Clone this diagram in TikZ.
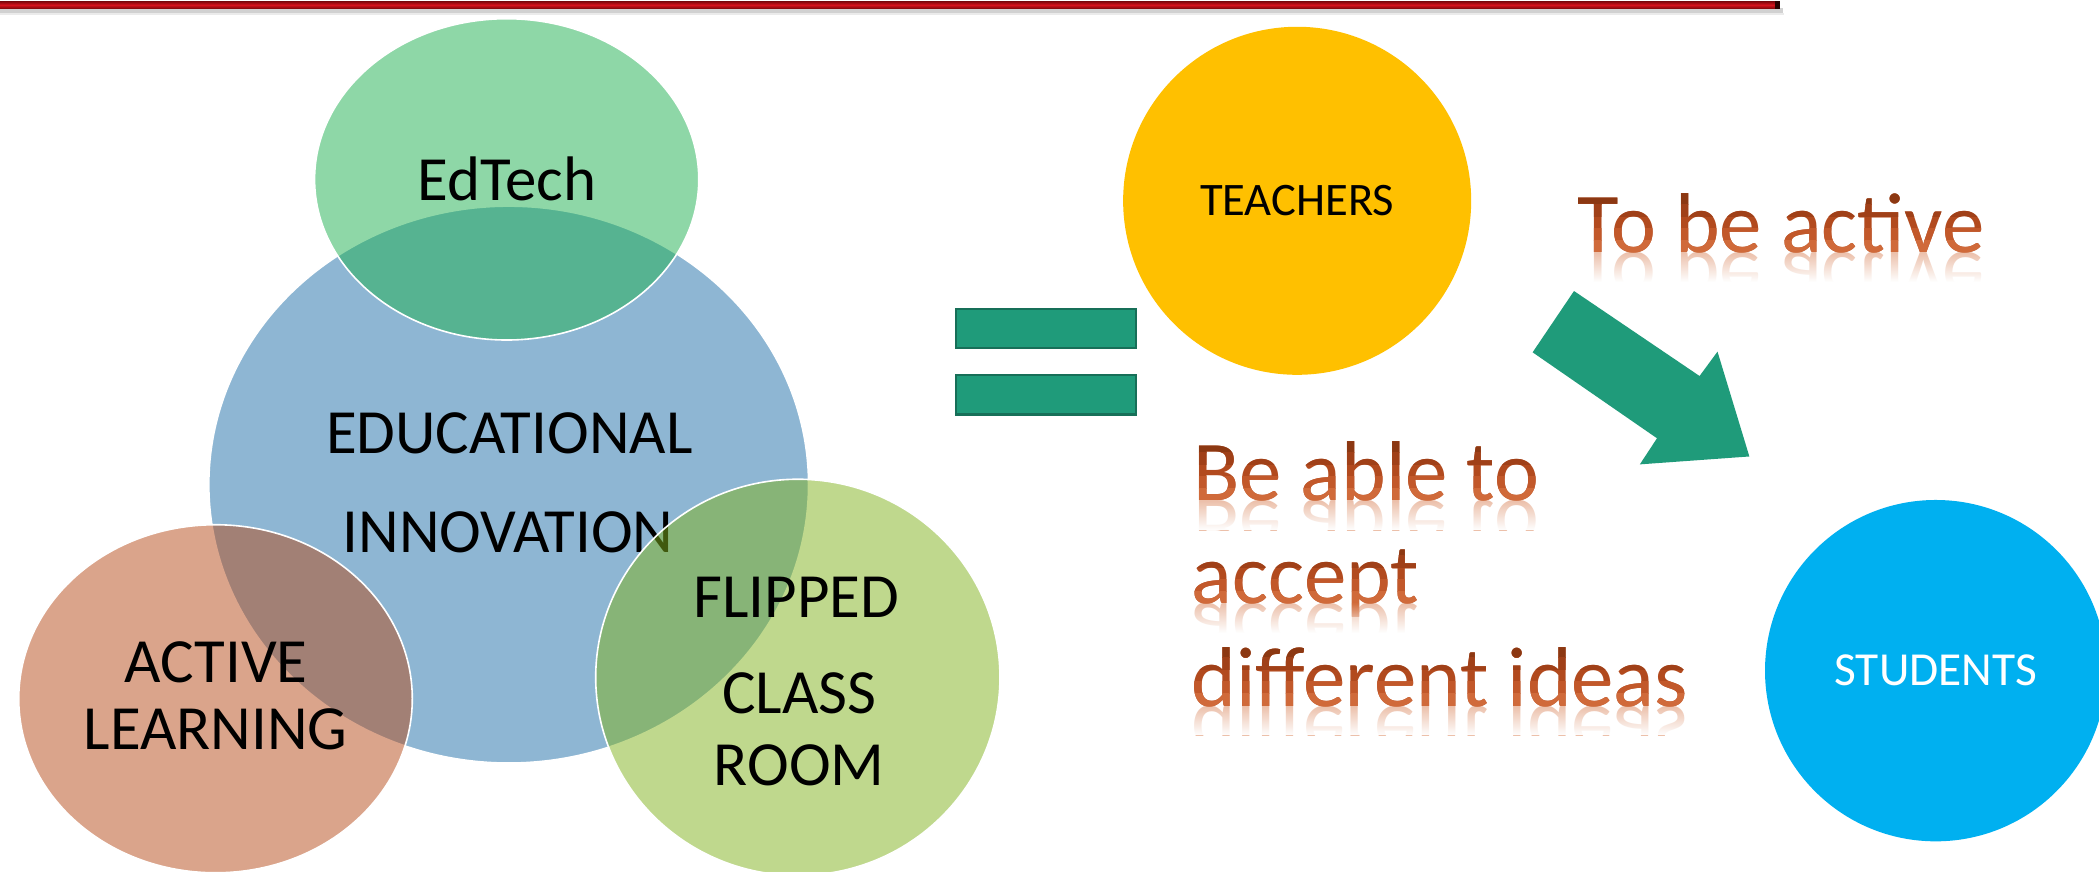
\documentclass[tikz,border=0pt]{standalone}
\usepackage{fontspec}
\setmainfont{Carlito}
\usetikzlibrary{shapes.geometric,fadings}
\definecolor{vblue}{RGB}{31,111,169}
\definecolor{vgreen}{RGB}{31,177,81}
\definecolor{vsalmon}{RGB}{183,75,25}
\definecolor{vlime}{RGB}{129,179,29}
\definecolor{tyellow}{RGB}{255,192,0}
\definecolor{scyan}{RGB}{0,176,240}
\definecolor{teal}{RGB}{31,155,122}
\definecolor{tealdark}{RGB}{23,111,88}
\definecolor{brA}{RGB}{140,56,18}
\definecolor{brB}{RGB}{160,64,24}
\definecolor{brC}{RGB}{178,74,30}
\definecolor{brD}{RGB}{194,88,42}
\definecolor{brE}{RGB}{208,106,58}
\definecolor{brownlight}{RGB}{214,116,68}
\definecolor{barred}{RGB}{214,18,28}
\definecolor{bardark}{RGB}{120,6,10}
\tikzfading[name=reflfade, top color=transparent!100, bottom color=transparent!0]
\tikzset{
  venn/.style={ellipse, draw=white, line width=0.6pt, fill opacity=0.5, draw opacity=1, text opacity=1, inner sep=0pt},
  venntext/.style={font=\fontsize{23.5}{28}\selectfont, text=black, inner sep=0pt, anchor=base},
  disc/.style={circle, inner sep=0pt},
  eqbar/.style={rectangle, fill=teal, draw=tealdark, line width=0.85pt, minimum width=67.3pt, minimum height=14.7pt, inner sep=0pt},
  brtext/.style={font=\fontsize{31.7}{38}\selectfont, inner sep=0pt, anchor=base west},
}
% band of a gradient-coloured line: x, baseline, text, top offset, bottom offset, colour
\newcommand{\brband}[6]{%
  \begin{scope}
    \clip (#1-6,#2+#4) rectangle (#1+430,#2+#5);
    \node[brtext, text=#6] at (#1,#2) {#3};
  \end{scope}
}
\newcommand{\brline}[4]{%
  \node[brtext, text=brC] (#1) at (#2,#3) {#4};
  \brband{#2}{#3}{#4}{-70}{-36}{brA}
  \brband{#2}{#3}{#4}{-36}{-27}{brB}
  \brband{#2}{#3}{#4}{-18}{-9}{brD}
  \brband{#2}{#3}{#4}{-9}{20}{brE}
  \begin{scope}
    \clip (#2-6,#3) rectangle (#2+430,#3+22);
    \begin{scope}[shift={(#2,#3)},yscale=-1]
      \node[brtext, text=brownlight, transform shape, opacity=0.45] (#1r) at (0,0) {#4};
    \end{scope}
  \end{scope}
  \fill[white, path fading=reflfade] (#2-6,#3) rectangle (#2+430,#3+22);
}
\begin{document}
\begin{tikzpicture}[x=0.5pt,y=-0.5pt]
\useasboundingbox (0,0) rectangle (1568,651);
\clip (0,0) rectangle (1568,651);
\fill[white] (0,0) rectangle (1568,651);

% top red bar with shadow
\fill[black!18] (0,6) rectangle (1332,9.5);
\fill[black!8] (0,9.5) rectangle (1333,11.5);
\shade[top color=bardark, bottom color=bardark, middle color=barred] (0,0.8) rectangle (1329,6.6);
\fill[black!85!red] (1326,0.8) rectangle (1330,6.6);

% Venn: educational innovation
\node[venn, fill=vblue, minimum width=224pt, minimum height=208pt] (edu) at (380,362) {};
\node[venntext] (edu1) at (380.5,339) {EDUCATIONAL};
\node[venntext] (edu2) at (379.5,412.5) {INNOVATION};

% EdTech
\node[venn, fill=vgreen, minimum width=143.5pt, minimum height=120pt, font=\fontsize{23.5}{28}\selectfont] (edtech) at (378.5,134) {EdTech};

% Active learning
\node[venn, fill=vsalmon, minimum width=147pt, minimum height=130pt] (active) at (161,522) {};
\node[venntext] (act1) at (161.5,510) {ACTIVE};
\node[venntext] (act2) at (161,560) {LEARNING};

% Flipped classroom
\node[venn, fill=vlime, minimum width=151pt, minimum height=148pt] (flip) at (596,506) {};
\node[venntext] (fl1) at (595,461) {FLIPPED};
\node[venntext] (fl2) at (597,533) {CLASS};
\node[venntext] (fl3) at (597,586.5) {ROOM};

% equals sign
\node[eqbar] (eqa) at (781.3,245.5) {};
\node[eqbar] (eqb) at (781.3,295) {};

% teachers and students
\node[disc, fill=tyellow, minimum size=130pt, text=black, font=\fontsize{17.4}{21}\selectfont] (teachers) at (969,150) {TEACHERS};
\node[disc, fill=scyan, minimum size=127.5pt, text=white, font=\fontsize{17.7}{21}\selectfont] (students) at (1446,501) {STUDENTS};

% block arrow
\coordinate (a1) at (1175.8,217.4);
\coordinate (a2) at (1269.6,280.9);
\coordinate (a3) at (1283,262.7);
\coordinate (a4) at (1306.8,341);
\coordinate (a5) at (1225,346.9);
\coordinate (a6) at (1237.8,327.4);
\coordinate (a7) at (1144.9,263.2);
\fill[teal] (a1) -- (a2) -- (a3) -- (a4) -- (a5) -- (a6) -- (a7) -- cycle;

% brown texts with reflection
\brline{tobe}{1178}{188.5}{To be active}
\brline{be1}{891}{374}{Be able to}
\brline{be2}{890}{450.7}{accept}
\brline{be3}{890}{527.4}{different ideas}
\end{tikzpicture}
\end{document}
